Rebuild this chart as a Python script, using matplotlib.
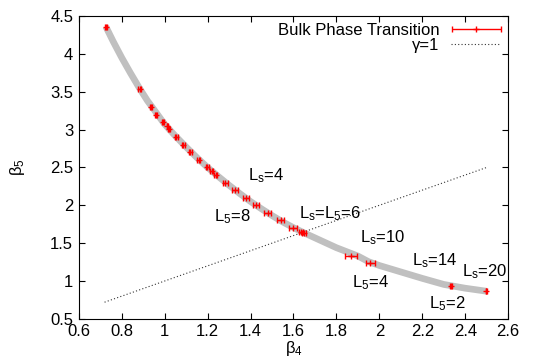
import numpy as np
import matplotlib
matplotlib.use("Agg")
import matplotlib.pyplot as plt
from matplotlib.legend_handler import HandlerErrorbar

plt.rcParams['font.family'] = ['Liberation Sans', 'DejaVu Sans']
plt.rcParams['mathtext.fontset'] = 'custom'
plt.rcParams['mathtext.rm'] = 'Liberation Sans'
plt.rcParams['mathtext.it'] = 'Liberation Sans:italic'
plt.rcParams['font.size'] = 12

# bulk phase transition points (beta4, beta5, error in beta4)
beta4 = [0.726, 0.884, 0.937, 0.961, 0.992, 1.013, 1.020, 1.054, 1.087, 1.120,
         1.158, 1.199, 1.219, 1.237, 1.283, 1.328, 1.377, 1.425, 1.480, 1.541,
         1.598, 1.635, 1.650, 1.868, 1.958, 2.334, 2.499]
beta5 = [4.36, 3.54, 3.294, 3.197, 3.10, 3.048, 3.004, 2.90, 2.80, 2.70,
         2.60, 2.50, 2.447, 2.40, 2.30, 2.196, 2.10, 2.00, 1.90, 1.80,
         1.694, 1.645, 1.637, 1.336, 1.236, 0.934, 0.869]
beta4_err = [0.006, 0.007, 0.004, 0.004, 0.004, 0.004, 0.004, 0.006, 0.006, 0.006,
             0.008, 0.008, 0.008, 0.008, 0.010, 0.012, 0.014, 0.014, 0.016, 0.017,
             0.018, 0.010, 0.010, 0.026, 0.020, 0.005, 0.004]

# grey band (fit curve)
band_x = [0.726, 0.76, 0.80, 0.84, 0.884, 0.92, 0.95, 1.00, 1.05, 1.10, 1.15,
          1.20, 1.25, 1.30, 1.35, 1.40, 1.45, 1.50, 1.55, 1.60, 1.65, 1.70,
          1.75, 1.80, 1.85, 1.90, 1.95, 2.00, 2.10, 2.20, 2.30, 2.40, 2.50]
band_y = [4.36, 4.165, 3.95, 3.75, 3.54, 3.38, 3.265, 3.07, 2.915, 2.77, 2.63,
          2.50, 2.38, 2.265, 2.155, 2.05, 1.955, 1.865, 1.78, 1.705, 1.635, 1.57,
          1.505, 1.44, 1.385, 1.33, 1.255, 1.205, 1.12, 1.035, 0.955, 0.905, 0.865]

# gamma = 1 line
gamma_x = [0.72, 2.50]
gamma_y = [0.72, 2.50]

labels = [r'L$_\mathrm{s}$=4', r'L$_5$=8', r'L$_\mathrm{s}$=L$_5$=6', r'L$_\mathrm{s}$=10',
          r'L$_5$=4', r'L$_\mathrm{s}$=14', r'L$_\mathrm{s}$=20', r'L$_5$=2']
label_x = [1.387, 1.230, 1.627, 1.908, 1.875, 2.153, 2.386, 2.232]
label_y = [2.336, 1.788, 1.824, 1.515, 0.917, 1.210, 1.065, 0.642]

fig = plt.figure(figsize=(5.36, 3.64), dpi=100)
ax = fig.add_axes([0.147, 0.124, 0.801, 0.832])

ax.plot(band_x, band_y, color='#c0c0c0', lw=4.8, solid_capstyle='butt', zorder=1)
eb = ax.errorbar(beta4, beta5, xerr=beta4_err, fmt='+', color='red', ms=5, mew=1,
                 elinewidth=1, capsize=2, capthick=1, zorder=3)
gl, = ax.plot(gamma_x, gamma_y, color='#333333', lw=0.8, ls=(0, (1, 2)), zorder=2)

for t, x, y in zip(labels, label_x, label_y):
    ax.text(x, y, t, ha='left', va='baseline', fontsize=12)

ax.set_xlim(0.6, 2.6)
ax.set_ylim(0.5, 4.5)
ax.set_xticks(np.arange(0.6, 2.61, 0.2))
ax.set_xticklabels(['0.6', '0.8', '1', '1.2', '1.4', '1.6', '1.8', '2', '2.2', '2.4', '2.6'])
ax.set_yticks(np.arange(0.5, 4.51, 0.5))
ax.set_yticklabels(['0.5', '1', '1.5', '2', '2.5', '3', '3.5', '4', '4.5'])
ax.tick_params(direction='in', top=True, right=True, length=4, width=0.8, labelsize=12, pad=4)
ax.set_xlabel('β$_4$', fontsize=12, labelpad=0)
ax.set_ylabel('β$_5$', fontsize=12, labelpad=17)

ax.legend([eb, gl], ['Bulk Phase Transition', 'γ=1'], loc='upper right', frameon=False,
          markerfirst=False, fontsize=12, handlelength=3.0, labelspacing=0.0,
          borderaxespad=0.1, borderpad=0.3, handletextpad=0.7,
          handler_map={type(eb): HandlerErrorbar(xerr_size=1.45)})

fig.savefig('out.png', dpi=100)
